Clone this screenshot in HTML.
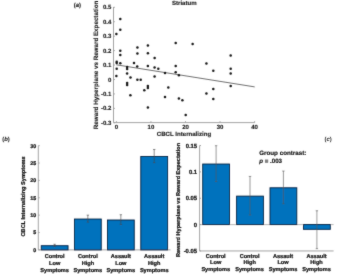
<!DOCTYPE html><html><head><meta charset="utf-8"><style>html,body{margin:0;padding:0;background:#fff;}svg{display:block;}text{text-rendering:geometricPrecision;font-family:"Liberation Sans",sans-serif;font-weight:bold;fill:#161616;stroke:#161616;stroke-width:0.12px;} .hv text{stroke-width:0.2px;fill:#0a0a0a;stroke:#0a0a0a;}</style></head><body>
<svg width="350" height="274" viewBox="0 0 350 274">
<defs><filter id="bl" x="-5%" y="-5%" width="110%" height="110%"><feConvolveMatrix order="3" kernelMatrix="0.02 0.07 0.02 0.07 0.64 0.07 0.02 0.07 0.02" edgeMode="duplicate"/></filter></defs>
<rect width="350" height="274" fill="#fff"/><g filter="url(#bl)">
<g stroke="#9a9a9a" stroke-width="0.9" fill="none">
<path d="M113.5,7.0 V122.6 H254.8"/>
<path d="M113.5,7.30 h1.4"/>
<path d="M113.5,21.74 h1.4"/>
<path d="M113.5,36.18 h1.4"/>
<path d="M113.5,50.62 h1.4"/>
<path d="M113.5,65.06 h1.4"/>
<path d="M113.5,79.50 h1.4"/>
<path d="M113.5,93.94 h1.4"/>
<path d="M113.5,108.38 h1.4"/>
<path d="M113.5,122.82 h1.4"/>
<path d="M116.40,122.6 v-1.4"/>
<path d="M150.95,122.6 v-1.4"/>
<path d="M185.50,122.6 v-1.4"/>
<path d="M220.05,122.6 v-1.4"/>
<path d="M254.60,122.6 v-1.4"/>
</g>
<text x="111.3" y="9.40" font-size="6" text-anchor="end">0.5</text>
<text x="111.3" y="23.84" font-size="6" text-anchor="end">0.4</text>
<text x="111.3" y="38.28" font-size="6" text-anchor="end">0.3</text>
<text x="111.3" y="52.72" font-size="6" text-anchor="end">0.2</text>
<text x="111.3" y="67.16" font-size="6" text-anchor="end">0.1</text>
<text x="111.3" y="81.60" font-size="6" text-anchor="end">0</text>
<text x="111.3" y="96.04" font-size="6" text-anchor="end">-0.1</text>
<text x="111.3" y="110.48" font-size="6" text-anchor="end">-0.2</text>
<text x="111.3" y="124.92" font-size="6" text-anchor="end">-0.3</text>
<text x="116.40" y="129.3" font-size="6" text-anchor="middle">0</text>
<text x="150.95" y="129.3" font-size="6" text-anchor="middle">10</text>
<text x="185.50" y="129.3" font-size="6" text-anchor="middle">20</text>
<text x="220.05" y="129.3" font-size="6" text-anchor="middle">30</text>
<text x="254.60" y="129.3" font-size="6" text-anchor="middle">40</text>
<text x="184" y="136" font-size="6.1" text-anchor="middle">CBCL Internalizing</text>
<text x="184.3" y="5.2" font-size="6.1" text-anchor="middle">Striatum</text>
<text transform="translate(98.3,64.9) rotate(-90)" font-size="6.25" text-anchor="middle">Reward Hyperplane vs Reward Expectation</text>
<text x="73.8" y="6.6" font-size="5.9" fill="#333">(<tspan font-style="italic">a</tspan>)</text>
<path d="M116.4,64.8 L254.7,86.9" stroke="#555" stroke-width="0.85" fill="none"/>
<circle cx="120.3" cy="19.0" r="1.25" fill="#151515"/>
<circle cx="120.3" cy="29.7" r="1.25" fill="#151515"/>
<circle cx="116.4" cy="34.0" r="1.25" fill="#151515"/>
<circle cx="120.3" cy="50.7" r="1.25" fill="#151515"/>
<circle cx="120.3" cy="55.0" r="1.25" fill="#151515"/>
<circle cx="137.4" cy="47.6" r="1.25" fill="#151515"/>
<circle cx="137.4" cy="53.6" r="1.25" fill="#151515"/>
<circle cx="147.9" cy="45.4" r="1.25" fill="#151515"/>
<circle cx="147.9" cy="53.3" r="1.25" fill="#151515"/>
<circle cx="154.6" cy="57.9" r="1.25" fill="#151515"/>
<circle cx="116.7" cy="61.7" r="1.25" fill="#151515"/>
<circle cx="116.7" cy="63.1" r="1.25" fill="#151515"/>
<circle cx="120.3" cy="63.3" r="1.25" fill="#151515"/>
<circle cx="134.0" cy="63.1" r="1.25" fill="#151515"/>
<circle cx="137.2" cy="66.6" r="1.25" fill="#151515"/>
<circle cx="147.9" cy="66.0" r="1.25" fill="#151515"/>
<circle cx="154.6" cy="67.6" r="1.25" fill="#151515"/>
<circle cx="158.3" cy="68.7" r="1.25" fill="#151515"/>
<circle cx="116.7" cy="68.8" r="1.25" fill="#151515"/>
<circle cx="127.1" cy="67.0" r="1.25" fill="#151515"/>
<circle cx="127.1" cy="69.1" r="1.25" fill="#151515"/>
<circle cx="127.1" cy="73.4" r="1.25" fill="#151515"/>
<circle cx="116.4" cy="76.0" r="1.25" fill="#151515"/>
<circle cx="130.5" cy="77.4" r="1.25" fill="#151515"/>
<circle cx="154.6" cy="76.6" r="1.25" fill="#151515"/>
<circle cx="137.4" cy="79.7" r="1.25" fill="#151515"/>
<circle cx="140.7" cy="79.7" r="1.25" fill="#151515"/>
<circle cx="127.1" cy="83.1" r="1.25" fill="#151515"/>
<circle cx="127.1" cy="85.1" r="1.25" fill="#151515"/>
<circle cx="147.9" cy="86.0" r="1.25" fill="#151515"/>
<circle cx="147.9" cy="87.9" r="1.25" fill="#151515"/>
<circle cx="144.3" cy="90.3" r="1.25" fill="#151515"/>
<circle cx="130.4" cy="95.3" r="1.25" fill="#151515"/>
<circle cx="147.9" cy="107.6" r="1.25" fill="#151515"/>
<circle cx="175.7" cy="42.9" r="1.25" fill="#151515"/>
<circle cx="192.6" cy="43.9" r="1.25" fill="#151515"/>
<circle cx="175.7" cy="66.1" r="1.25" fill="#151515"/>
<circle cx="165.0" cy="72.9" r="1.25" fill="#151515"/>
<circle cx="175.7" cy="72.3" r="1.25" fill="#151515"/>
<circle cx="178.9" cy="75.3" r="1.25" fill="#151515"/>
<circle cx="168.3" cy="87.6" r="1.25" fill="#151515"/>
<circle cx="165.0" cy="96.9" r="1.25" fill="#151515"/>
<circle cx="178.9" cy="98.6" r="1.25" fill="#151515"/>
<circle cx="182.4" cy="100.3" r="1.25" fill="#151515"/>
<circle cx="185.7" cy="115.0" r="1.25" fill="#151515"/>
<circle cx="230.7" cy="55.4" r="1.25" fill="#151515"/>
<circle cx="206.4" cy="63.6" r="1.25" fill="#151515"/>
<circle cx="213.3" cy="70.7" r="1.25" fill="#151515"/>
<circle cx="230.7" cy="68.8" r="1.25" fill="#151515"/>
<circle cx="230.7" cy="73.5" r="1.25" fill="#151515"/>
<circle cx="230.7" cy="86.0" r="1.25" fill="#151515"/>
<circle cx="213.3" cy="89.0" r="1.25" fill="#151515"/>
<circle cx="206.4" cy="93.6" r="1.25" fill="#151515"/>
<circle cx="213.3" cy="99.0" r="1.25" fill="#151515"/>
<g class="hv">
<g stroke="#9a9a9a" stroke-width="0.9" fill="none">
<path d="M38.3,145.65 V249.9 H170.5"/>
<path d="M38.3,249.90 h1.4"/>
<path d="M38.3,232.53 h1.4"/>
<path d="M38.3,215.15 h1.4"/>
<path d="M38.3,197.78 h1.4"/>
<path d="M38.3,180.40 h1.4"/>
<path d="M38.3,163.03 h1.4"/>
<path d="M38.3,145.65 h1.4"/>
</g>
<text x="36.3" y="251.80" font-size="5.4" text-anchor="end">0</text>
<text x="36.3" y="234.43" font-size="5.4" text-anchor="end">5</text>
<text x="36.3" y="217.05" font-size="5.4" text-anchor="end">10</text>
<text x="36.3" y="199.68" font-size="5.4" text-anchor="end">15</text>
<text x="36.3" y="182.30" font-size="5.4" text-anchor="end">20</text>
<text x="36.3" y="164.93" font-size="5.4" text-anchor="end">25</text>
<text x="36.3" y="147.55" font-size="5.4" text-anchor="end">30</text>
<rect x="41.25" y="245.71" width="26.80" height="4.19" fill="#0472bd" stroke="#071c3a" stroke-width="0.9"/>
<path d="M54.65,244.27 V246.36 M53.449999999999996,244.27 h2.4 M53.449999999999996,246.36 h2.4" stroke="#444" stroke-width="0.6" fill="none"/>
<rect x="74.45" y="219.03" width="26.80" height="30.88" fill="#0472bd" stroke="#071c3a" stroke-width="0.9"/>
<path d="M87.85,215.15 V222.10 M86.64999999999999,215.15 h2.4 M86.64999999999999,222.10 h2.4" stroke="#444" stroke-width="0.6" fill="none"/>
<rect x="107.45" y="220.00" width="26.80" height="29.90" fill="#0472bd" stroke="#071c3a" stroke-width="0.9"/>
<path d="M120.85,214.73 V224.46 M119.64999999999999,214.73 h2.4 M119.64999999999999,224.46 h2.4" stroke="#444" stroke-width="0.6" fill="none"/>
<rect x="140.80" y="156.47" width="26.80" height="93.43" fill="#0472bd" stroke="#071c3a" stroke-width="0.9"/>
<path d="M154.2,149.47 V162.68 M153.0,149.47 h2.4 M153.0,162.68 h2.4" stroke="#444" stroke-width="0.6" fill="none"/>
<text x="54.65" y="258.3" font-size="5.6" text-anchor="middle">Control</text>
<text x="54.65" y="264.9" font-size="5.6" text-anchor="middle">Low</text>
<text x="54.65" y="271.5" font-size="5.6" text-anchor="middle">Symptoms</text>
<text x="87.85" y="258.3" font-size="5.6" text-anchor="middle">Control</text>
<text x="87.85" y="264.9" font-size="5.6" text-anchor="middle">High</text>
<text x="87.85" y="271.5" font-size="5.6" text-anchor="middle">Symptoms</text>
<text x="120.85" y="258.3" font-size="5.6" text-anchor="middle">Assault</text>
<text x="120.85" y="264.9" font-size="5.6" text-anchor="middle">Low</text>
<text x="120.85" y="271.5" font-size="5.6" text-anchor="middle">Symptoms</text>
<text x="154.2" y="258.3" font-size="5.6" text-anchor="middle">Assault</text>
<text x="154.2" y="264.9" font-size="5.6" text-anchor="middle">High</text>
<text x="154.2" y="271.5" font-size="5.6" text-anchor="middle">Symptoms</text>
<text transform="translate(24.8,196.4) rotate(-90)" font-size="5.6" text-anchor="middle">CBCL Internalizing Symptoms</text>
<text x="2.2" y="140.8" font-size="5.9" style="stroke-width:0.05px;fill:#222;stroke:#222">(<tspan font-style="italic">b</tspan>)</text>
<g stroke="#9a9a9a" stroke-width="0.9" fill="none">
<path d="M199.6,145.55 V250.95 H333.6"/>
<path d="M199.6,224.6 H333.6" stroke="#b0b0b0"/>
<path d="M199.6,145.55 h1.4"/>
<path d="M199.6,171.90 h1.4"/>
<path d="M199.6,198.25 h1.4"/>
<path d="M199.6,224.60 h1.4"/>
<path d="M199.6,250.95 h1.4"/>
</g>
<text x="197.1" y="147.60" font-size="5.9" text-anchor="end">0.15</text>
<text x="197.1" y="173.95" font-size="5.9" text-anchor="end">0.1</text>
<text x="197.1" y="200.30" font-size="5.9" text-anchor="end">0.05</text>
<text x="197.1" y="226.65" font-size="5.9" text-anchor="end">0</text>
<text x="197.1" y="253.00" font-size="5.9" text-anchor="end">-0.05</text>
<rect x="202.70" y="164.03" width="26.80" height="60.57" fill="#0472bd" stroke="#071c3a" stroke-width="0.9"/>
<path d="M216.1,145.71 V181.54 M214.9,145.71 h2.4 M214.9,181.54 h2.4" stroke="#555" stroke-width="0.6" fill="none"/>
<rect x="236.60" y="196.12" width="26.80" height="28.48" fill="#0472bd" stroke="#071c3a" stroke-width="0.9"/>
<path d="M250.0,176.43 V215.01 M248.8,176.43 h2.4 M248.8,215.01 h2.4" stroke="#555" stroke-width="0.6" fill="none"/>
<rect x="270.00" y="187.79" width="26.80" height="36.81" fill="#0472bd" stroke="#071c3a" stroke-width="0.9"/>
<path d="M283.4,171.06 V203.73 M282.2,171.06 h2.4 M282.2,203.73 h2.4" stroke="#555" stroke-width="0.6" fill="none"/>
<rect x="303.50" y="224.60" width="26.80" height="4.71" fill="#0472bd" stroke="#071c3a" stroke-width="0.9"/>
<path d="M316.9,210.74 V248.68 M315.7,210.74 h2.4 M315.7,248.68 h2.4" stroke="#555" stroke-width="0.6" fill="none"/>
<text x="215.7" y="257.7" font-size="5.6" text-anchor="middle">Control</text>
<text x="215.7" y="264.3" font-size="5.6" text-anchor="middle">Low</text>
<text x="215.7" y="270.9" font-size="5.6" text-anchor="middle">Symptoms</text>
<text x="249.6" y="257.7" font-size="5.6" text-anchor="middle">Control</text>
<text x="249.6" y="264.3" font-size="5.6" text-anchor="middle">High</text>
<text x="249.6" y="270.9" font-size="5.6" text-anchor="middle">Symptoms</text>
<text x="283.0" y="257.7" font-size="5.6" text-anchor="middle">Assault</text>
<text x="283.0" y="264.3" font-size="5.6" text-anchor="middle">Low</text>
<text x="283.0" y="270.9" font-size="5.6" text-anchor="middle">Symptoms</text>
<text x="316.5" y="257.7" font-size="5.6" text-anchor="middle">Assault</text>
<text x="316.5" y="264.3" font-size="5.6" text-anchor="middle">High</text>
<text x="316.5" y="270.9" font-size="5.6" text-anchor="middle">Symptoms</text>
<text transform="translate(180.3,200) rotate(-90)" font-size="5.55" text-anchor="middle">Reward Hyperplane vs Reward Expectation</text>
<text x="259.2" y="154.7" font-size="6.25" style="stroke-width:0.12px">Group contrast:</text>
<text x="259.2" y="162.6" font-size="6.2" style="stroke-width:0.12px"><tspan font-style="italic">p</tspan> = .003</text>
<text x="324.6" y="140.6" font-size="5.9" style="stroke-width:0;fill:#2a2a2a">(<tspan font-style="italic">c</tspan>)</text>
</g></g></svg></body></html>
